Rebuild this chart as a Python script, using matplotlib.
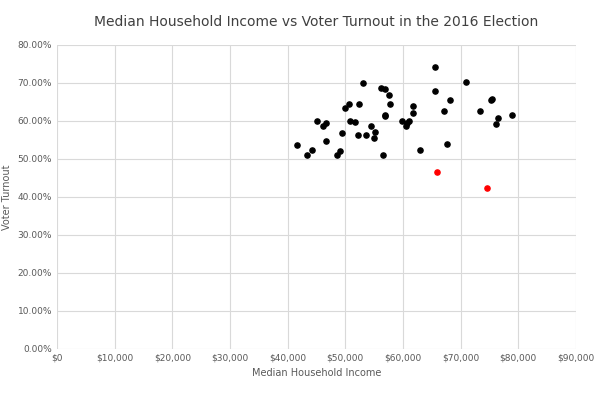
import matplotlib.pyplot as plt
from matplotlib.ticker import FuncFormatter

income = [41700, 43400, 44300, 45100, 46200, 46600, 46700, 48500, 49100, 49400,
          49900, 50600, 50800, 51700, 52200, 52400, 53000, 53500, 54500, 54900,
          55100, 56200, 56600, 56900, 56900, 56900, 57500, 57700, 59800, 60500,
          60700, 61000, 61700, 61700, 62900, 65500, 65600, 67100, 67700, 68100,
          70900, 73400, 75300, 75400, 76100, 76400, 78900]
turnout = [53.6, 51.0, 52.5, 60.0, 58.7, 59.5, 54.8, 51.1, 52.0, 56.9,
           63.5, 64.6, 60.1, 59.7, 56.2, 64.6, 70.1, 56.3, 58.7, 55.6,
           57.1, 68.7, 51.1, 68.3, 61.6, 61.3, 66.9, 64.6, 60.1, 58.8,
           59.4, 60.0, 63.9, 62.0, 52.5, 74.1, 68.0, 62.6, 53.9, 65.6,
           70.3, 62.6, 65.4, 65.7, 59.3, 60.7, 61.5]
red_income = [65900, 74500]
red_turnout = [46.5, 42.4]

fig = plt.figure(figsize=(6, 4), dpi=100)
ax = fig.add_axes([0.095, 0.1275, 0.865, 0.76])
ax.scatter(income, turnout, s=14, color='black', zorder=3)
ax.scatter(red_income, red_turnout, s=14, color='red', zorder=3)

ax.set_xlim(0, 90000)
ax.set_ylim(0, 80)
ax.set_xticks(range(0, 90001, 10000))
ax.set_yticks(range(0, 81, 10))
ax.xaxis.set_major_formatter(FuncFormatter(lambda v, p: f"${v:,.0f}"))
ax.yaxis.set_major_formatter(FuncFormatter(lambda v, p: f"{v:.2f}%"))
ax.grid(True, color='#d9d9d9', linewidth=0.8)
ax.set_axisbelow(True)
for s in ax.spines.values():
    s.set_visible(False)
ax.tick_params(length=0, labelsize=6.5, colors='#595959')

ax.set_title("Median Household Income vs Voter Turnout in the 2016 Election",
             fontsize=10, color='#404040', pad=14)
ax.set_xlabel("Median Household Income", fontsize=7, color='#595959')
ax.set_ylabel("Voter Turnout", fontsize=7, color='#595959')

fig.savefig("out.png")
